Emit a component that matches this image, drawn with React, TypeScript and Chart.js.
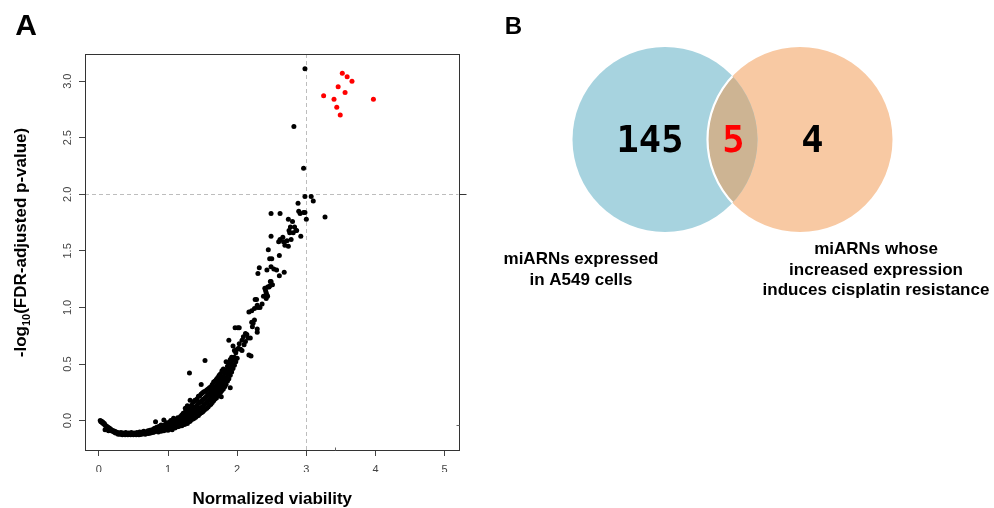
import React, { useEffect, useRef } from 'react';
import { Chart, registerables } from 'chart.js';

Chart.register(...registerables);

type Pt = [number, number];

// ---------- Panel A data ----------
const xTickValues = [0, 1, 2, 3, 4, 5];
const yTickValues = [0, 0.5, 1, 1.5, 2, 2.5, 3];
const xRange = [-0.2, 5.2];
const yRange = [-0.26, 3.24];
const viabilityThreshold = 3;
const significanceThreshold = 2;
const xAxisTitle = 'Normalized viability';
const yTitleParts = ['-log', '10', '(FDR-adjusted p-value)'];
// stray axis marks visible in the original figure
const bottomStrayMarkX = 3.41;
const rightStrayMarkY = -0.04;

const baselinePoints: Pt[] = [
  [0.02, 0.0], [0.03, -0.01], [0.04, -0.005], [0.05, -0.02], [0.06, -0.015], [0.07, -0.03], [0.08, -0.025],
  [0.09, -0.04], [0.09, -0.08], [0.1, -0.045], [0.11, -0.05], [0.12, -0.055], [0.13, -0.06], [0.14, -0.07],
  [0.14, -0.09], [0.15, -0.065], [0.16, -0.08], [0.17, -0.075], [0.18, -0.09], [0.19, -0.085], [0.2, -0.095],
  [0.21, -0.09], [0.22, -0.1], [0.23, -0.095], [0.24, -0.11], [0.25, -0.1], [0.26, -0.11], [0.27, -0.105],
  [0.28, -0.12], [0.29, -0.11], [0.3, -0.115], [0.31, -0.12], [0.32, -0.105], [0.33, -0.115], [0.34, -0.125],
  [0.35, -0.11], [0.36, -0.12], [0.37, -0.115], [0.38, -0.125], [0.39, -0.105], [0.4, -0.12], [0.41, -0.115],
  [0.42, -0.125], [0.43, -0.11], [0.44, -0.12], [0.45, -0.115], [0.46, -0.125], [0.47, -0.105], [0.48, -0.12],
  [0.49, -0.115], [0.5, -0.125], [0.51, -0.11], [0.52, -0.12], [0.53, -0.115], [0.54, -0.125], [0.55, -0.105],
  [0.56, -0.12], [0.57, -0.115], [0.58, -0.125], [0.59, -0.1], [0.6, -0.12], [0.61, -0.11], [0.62, -0.12],
  [0.63, -0.1], [0.64, -0.115], [0.65, -0.095], [0.66, -0.11], [0.67, -0.12], [0.68, -0.1], [0.69, -0.115],
  [0.7, -0.105], [0.71, -0.09], [0.72, -0.115], [0.73, -0.1], [0.74, -0.085], [0.75, -0.11], [0.76, -0.095],
  [0.77, -0.08], [0.78, -0.105], [0.79, -0.09]
];

const risingBandPoints: Pt[] = [
  [0.8, -0.1], [0.8, -0.07], [0.82, -0.065], [0.82, -0.095], [0.82, -0.01], [0.84, -0.09], [0.84, -0.06],
  [0.86, -0.055], [0.86, -0.1], [0.88, -0.085], [0.88, -0.05], [0.9, -0.095], [0.9, -0.06], [0.9, -0.04],
  [0.92, -0.075], [0.92, -0.045], [0.94, -0.09], [0.94, -0.055], [0.94, 0.005], [0.96, -0.035], [0.96, -0.07],
  [0.98, -0.08], [0.98, -0.045], [0.98, -0.02], [1.0, -0.065], [1.0, -0.03], [1.0, -0.085], [1.02, -0.05],
  [1.02, -0.015], [1.02, -0.075], [1.04, -0.07], [1.04, -0.035], [1.04, 0.0], [1.06, -0.02], [1.06, -0.055],
  [1.06, -0.08], [1.08, -0.06], [1.08, -0.03], [1.08, 0.02], [1.1, -0.065], [1.1, -0.01], [1.1, -0.04],
  [1.12, -0.045], [1.12, 0.01], [1.12, -0.02], [1.14, -0.055], [1.14, -0.005], [1.14, 0.025], [1.16, -0.03],
  [1.16, 0.015], [1.16, -0.05], [1.18, -0.04], [1.18, 0.0], [1.18, 0.035],
  [1.2, -0.045], [1.2, -0.015], [1.2, 0.02], [1.2, 0.05], [1.22, -0.03], [1.22, 0.005], [1.22, 0.04], [1.22, 0.065],
  [1.24, -0.035], [1.24, -0.005], [1.24, 0.03], [1.24, 0.07], [1.25, 0.11], [1.26, -0.02], [1.26, 0.015],
  [1.26, 0.05], [1.26, 0.09], [1.28, -0.025], [1.28, 0.01], [1.28, 0.045], [1.28, 0.08], [1.28, 0.13],
  [1.3, -0.01], [1.3, 0.03], [1.3, 0.07], [1.3, 0.11], [1.31, 0.42], [1.32, -0.005], [1.32, 0.04], [1.32, 0.08],
  [1.32, 0.12], [1.32, 0.18], [1.34, 0.01], [1.34, 0.05], [1.34, 0.09], [1.34, 0.135], [1.36, 0.015],
  [1.36, 0.06], [1.36, 0.1], [1.36, 0.16], [1.38, 0.02], [1.38, 0.07], [1.38, 0.115], [1.38, 0.17], [1.39, 0.18],
  [1.4, 0.03], [1.4, 0.075], [1.4, 0.12], [1.4, 0.18], [1.42, 0.04], [1.42, 0.085], [1.42, 0.135], [1.42, 0.19],
  [1.44, 0.045], [1.44, 0.095], [1.44, 0.15], [1.44, 0.215], [1.46, 0.06], [1.46, 0.11], [1.46, 0.16],
  [1.46, 0.22], [1.48, 0.07], [1.48, 0.115], [1.48, 0.17], [1.48, 0.235], [1.48, 0.32], [1.5, 0.075],
  [1.5, 0.125], [1.5, 0.185], [1.5, 0.245], [1.52, 0.09], [1.52, 0.14], [1.52, 0.19], [1.52, 0.255],
  [1.535, 0.53], [1.54, 0.1], [1.54, 0.15], [1.54, 0.205], [1.54, 0.26], [1.56, 0.11], [1.56, 0.16],
  [1.56, 0.215], [1.56, 0.27], [1.58, 0.12], [1.58, 0.175], [1.58, 0.23], [1.58, 0.28], [1.6, 0.135],
  [1.6, 0.185], [1.6, 0.24], [1.6, 0.29], [1.62, 0.145], [1.62, 0.2], [1.62, 0.25], [1.62, 0.3], [1.64, 0.16],
  [1.64, 0.215], [1.64, 0.265], [1.64, 0.32], [1.66, 0.175], [1.66, 0.225], [1.66, 0.28], [1.66, 0.34],
  [1.68, 0.19], [1.68, 0.245], [1.68, 0.295], [1.68, 0.35], [1.7, 0.2], [1.7, 0.255], [1.7, 0.31], [1.7, 0.365],
  [1.72, 0.22], [1.72, 0.27], [1.72, 0.325], [1.72, 0.38], [1.74, 0.235], [1.74, 0.285], [1.74, 0.34],
  [1.74, 0.4], [1.76, 0.25], [1.76, 0.3], [1.76, 0.355], [1.76, 0.415], [1.77, 0.21], [1.78, 0.265],
  [1.78, 0.32], [1.78, 0.375], [1.78, 0.44], [1.8, 0.28], [1.8, 0.335], [1.8, 0.39], [1.8, 0.455],
  [1.82, 0.3], [1.82, 0.36], [1.82, 0.42], [1.84, 0.32], [1.84, 0.38], [1.84, 0.45], [1.84, 0.52],
  [1.86, 0.35], [1.86, 0.41], [1.86, 0.48], [1.88, 0.37], [1.88, 0.44], [1.88, 0.51], [1.88, 0.71],
  [1.9, 0.29], [1.9, 0.4], [1.9, 0.47], [1.9, 0.54], [1.92, 0.43], [1.92, 0.5], [1.92, 0.56], [1.94, 0.46],
  [1.94, 0.53], [1.94, 0.66], [1.96, 0.49], [1.96, 0.56], [1.96, 0.62], [1.98, 0.52], [1.98, 0.6],
  [2.0, 0.55], [2.0, 0.63]
];

const upperPoints: Pt[] = [
  [1.97, 0.82], [2.01, 0.82], [2.03, 0.82], [2.02, 0.64], [2.03, 0.68], [2.05, 0.63], [2.07, 0.62], [2.07, 0.71],
  [2.09, 0.74], [2.1, 0.67], [2.12, 0.77], [2.12, 0.7], [2.14, 0.76], [2.16, 0.73], [2.17, 0.58], [2.19, 0.73],
  [2.2, 0.57], [2.17, 0.96], [2.21, 0.97], [2.21, 0.87], [2.22, 0.83], [2.23, 0.86], [2.25, 0.89], [2.25, 0.99],
  [2.26, 1.07], [2.28, 1.07], [2.29, 1.02], [2.29, 0.81], [2.29, 0.78], [2.3, 1.0], [2.3, 1.3], [2.32, 1.35],
  [2.33, 1.0], [2.36, 1.03], [2.38, 1.1], [2.4, 1.17], [2.41, 1.15], [2.42, 1.13], [2.42, 1.08], [2.43, 1.11],
  [2.44, 1.1], [2.44, 1.18], [2.43, 1.33], [2.45, 1.51], [2.46, 1.18], [2.47, 1.19], [2.47, 1.43], [2.48, 1.23],
  [2.49, 1.23], [2.49, 1.36], [2.49, 1.63], [2.49, 1.83], [2.5, 1.43], [2.51, 1.2], [2.53, 1.34], [2.57, 1.33],
  [2.61, 1.28], [2.68, 1.31], [2.61, 1.46], [2.62, 1.83], [2.6, 1.58], [2.62, 1.6], [2.66, 1.62], [2.67, 1.58],
  [2.69, 1.55], [2.72, 1.59], [2.74, 1.54], [2.74, 1.78], [2.75, 1.68], [2.76, 1.66], [2.77, 1.71], [2.78, 1.6],
  [2.8, 1.76], [2.81, 1.66], [2.83, 1.71], [2.85, 1.68], [2.86, 1.68], [2.88, 1.92], [2.89, 1.85], [2.91, 1.83],
  [2.92, 1.63], [2.96, 1.84], [2.98, 1.84], [2.98, 1.98], [3.0, 1.78], [3.07, 1.98], [3.1, 1.94], [3.27, 1.8],
  [2.96, 2.23], [2.82, 2.6], [2.98, 3.11]
];

const candidatePoints: Pt[] = [
  [3.25, 2.87], [3.4, 2.84], [3.44, 2.77], [3.49, 2.7], [3.46, 2.95], [3.52, 3.07], [3.59, 3.04], [3.66, 3.0],
  [3.56, 2.9], [3.97, 2.84]
];

// ---------- Panel B data ----------
const vennCounts = [145, 5, 4]; // only set 1, both, only set 2
const vennSetNames = [
  ['miARNs expressed', 'in A549 cells'],
  ['miARNs whose', 'increased expression', 'induces cisplatin resistance']
];
const panelLetters = ['A', 'B'];

const FONT = '"Liberation Sans", Arial, Helvetica, sans-serif';
const vennGeometry = [
  { x: 185, y: 139.5, r: 92.5, color: '#a7d3df' },
  { x: 320, y: 139.5, r: 92.5, color: '#f8c9a3' }
];
const overlapColor = '#cdb493';

const toXY = (pts: Pt[]) => pts.map(([x, y]) => ({ x, y }));

const scatterDecor = {
  id: 'scatterDecor',
  beforeDatasetsDraw(chart: any) {
    const { ctx, chartArea: a, scales } = chart;
    const px = Math.round(scales.x.getPixelForValue(viabilityThreshold)) + 0.5;
    const py = Math.round(scales.y.getPixelForValue(significanceThreshold)) + 0.5;
    ctx.save();
    ctx.strokeStyle = '#bdbdbd';
    ctx.lineWidth = 1;
    ctx.setLineDash([4, 3]);
    ctx.beginPath();
    ctx.moveTo(px, a.top);
    ctx.lineTo(px, a.bottom);
    ctx.moveTo(a.left, py);
    ctx.lineTo(a.right, py);
    ctx.stroke();
    ctx.restore();
  },
  afterDraw(chart: any) {
    const { ctx, chartArea: a, scales } = chart;
    ctx.save();
    ctx.strokeStyle = '#333';
    ctx.lineWidth = 1;
    const l = Math.round(a.left) + 0.5, r = Math.round(a.right) + 0.5;
    const t = Math.round(a.top) + 0.5, b = Math.round(a.bottom) + 0.5;
    ctx.strokeRect(l, t, r - l, b - t);
    const py = Math.round(scales.y.getPixelForValue(significanceThreshold)) + 0.5;
    ctx.beginPath();
    ctx.moveTo(r, py);
    ctx.lineTo(r + 7, py);
    ctx.stroke();
    // stray marks
    ctx.strokeStyle = '#666';
    const sx = Math.round(scales.x.getPixelForValue(bottomStrayMarkX)) + 0.5;
    const sy = Math.round(scales.y.getPixelForValue(rightStrayMarkY)) + 0.5;
    ctx.beginPath();
    ctx.moveTo(sx, b);
    ctx.lineTo(sx, b - 3);
    ctx.moveTo(r, sy);
    ctx.lineTo(r - 3, sy);
    ctx.stroke();

    ctx.fillStyle = '#444';
    ctx.font = `11px ${FONT}`;
    ctx.textAlign = 'center';
    ctx.textBaseline = 'middle';
    for (const v of yTickValues) {
      const yy = scales.y.getPixelForValue(v);
      ctx.save();
      ctx.translate(a.left - 17, yy);
      ctx.rotate(-Math.PI / 2);
      ctx.fillText(v.toFixed(1), 0, 0);
      ctx.restore();
    }
    ctx.fillStyle = '#000';
    ctx.font = `bold 17px ${FONT}`;
    ctx.textAlign = 'center';
    ctx.textBaseline = 'alphabetic';
    ctx.fillText(xAxisTitle, (a.left + a.right) / 2 + 0.5, 504);
    ctx.save();
    ctx.translate(25.5, 242.5);
    ctx.rotate(-Math.PI / 2);
    const mainF = `bold 17px ${FONT}`;
    const subF = `bold 11px ${FONT}`;
    ctx.font = mainF;
    const w1 = ctx.measureText(yTitleParts[0]).width;
    const w3 = ctx.measureText(yTitleParts[2]).width;
    ctx.font = subF;
    const w2 = ctx.measureText(yTitleParts[1]).width;
    let x0 = -(w1 + w2 + w3) / 2;
    ctx.textAlign = 'left';
    ctx.font = mainF;
    ctx.fillText(yTitleParts[0], x0, 0);
    x0 += w1;
    ctx.font = subF;
    ctx.fillText(yTitleParts[1], x0, 4);
    x0 += w2;
    ctx.font = mainF;
    ctx.fillText(yTitleParts[2], x0, 0);
    ctx.restore();
    ctx.font = `bold 30px ${FONT}`;
    ctx.textAlign = 'center';
    ctx.fillText(panelLetters[0], 26, 35);
    ctx.restore();
  }
};

const vennDecor = {
  id: 'vennDecor',
  afterDatasetsDraw(chart: any) {
    const { ctx } = chart;
    const a = chart.getDatasetMeta(0).data[0];
    const b = chart.getDatasetMeta(1).data[0];
    const ra = a.options.radius, rb = b.options.radius;
    ctx.save();
    ctx.beginPath();
    ctx.arc(a.x, a.y, ra, 0, Math.PI * 2);
    ctx.clip();
    ctx.beginPath();
    ctx.arc(b.x, b.y, rb, 0, Math.PI * 2);
    ctx.fillStyle = overlapColor;
    ctx.fill();
    ctx.strokeStyle = '#ffffff';
    ctx.lineWidth = 2.2;
    ctx.stroke();
    ctx.restore();

    ctx.save();
    ctx.textAlign = 'center';
    ctx.textBaseline = 'alphabetic';
    ctx.font = `bold 37px "DejaVu Sans Mono", ${FONT}`;
    const base = a.y + 12.2;
    ctx.fillStyle = '#000';
    ctx.fillText(String(vennCounts[0]), a.x - 15, base);
    ctx.fillStyle = '#ff0000';
    ctx.fillText(String(vennCounts[1]), (a.x + b.x) / 2 + 1, base);
    ctx.fillStyle = '#000';
    ctx.fillText(String(vennCounts[2]), b.x + 12.5, base);

    ctx.font = `bold 17px ${FONT}`;
    ctx.textBaseline = 'middle';
    vennSetNames[0].forEach((line, i) => ctx.fillText(line, a.x - 84, a.y + 120 + i * 20.5));
    vennSetNames[1].forEach((line, i) => ctx.fillText(line, b.x + 76, a.y + 110 + i * 20.5));

    ctx.font = `bold 24px ${FONT}`;
    ctx.textBaseline = 'alphabetic';
    ctx.fillText(panelLetters[1], 33.5, 34);
    ctx.restore();
  }
};

export default function App() {
  const leftRef = useRef<HTMLCanvasElement>(null);
  const rightRef = useRef<HTMLCanvasElement>(null);

  useEffect(() => {
    const tickFont = { size: 11, family: FONT };
    const scatter = new Chart(leftRef.current as HTMLCanvasElement, {
      type: 'scatter',
      data: {
        datasets: [
          {
            data: toXY([...baselinePoints, ...risingBandPoints, ...upperPoints]),
            backgroundColor: '#000',
            borderWidth: 0,
            pointRadius: 2.5
          },
          {
            data: toXY(candidatePoints),
            backgroundColor: '#ff0000',
            borderWidth: 0,
            pointRadius: 2.5
          }
        ]
      },
      options: {
        responsive: false,
        animation: false,
        devicePixelRatio: 1,
        events: [],
        layout: { autoPadding: false, padding: { left: 79, right: 21.5, top: 54, bottom: 36 } },
        plugins: { legend: { display: false }, tooltip: { enabled: false } },
        scales: {
          x: {
            type: 'linear',
            min: xRange[0],
            max: xRange[1],
            afterFit: (s: any) => { s.height = 22; },
            afterBuildTicks: (s: any) => { s.ticks = xTickValues.map((value) => ({ value })); },
            ticks: { font: tickFont, color: '#444', padding: 7, maxRotation: 0, includeBounds: false },
            grid: { drawOnChartArea: false, drawTicks: true, tickLength: 6, tickColor: '#444', color: '#444' },
            border: { display: false }
          },
          y: {
            type: 'linear',
            min: yRange[0],
            max: yRange[1],
            afterFit: (s: any) => { s.width = 6; },
            afterBuildTicks: (s: any) => { s.ticks = yTickValues.map((value) => ({ value })); },
            ticks: { display: false, includeBounds: false },
            grid: { drawOnChartArea: false, drawTicks: true, tickLength: 6, tickColor: '#444', color: '#444' },
            border: { display: false }
          }
        }
      } as any,
      plugins: [scatterDecor]
    });

    const venn = new Chart(rightRef.current as HTMLCanvasElement, {
      type: 'bubble',
      data: {
        datasets: vennGeometry.map((g) => ({
          data: [{ x: g.x, y: g.y, r: g.r }],
          backgroundColor: g.color,
          borderWidth: 0,
          clip: false
        }))
      },
      options: {
        responsive: false,
        animation: false,
        devicePixelRatio: 1,
        events: [],
        layout: { autoPadding: false, padding: 0 },
        plugins: { legend: { display: false }, tooltip: { enabled: false } },
        scales: {
          x: { type: 'linear', display: false, min: 0, max: 514 },
          y: { type: 'linear', display: false, min: 0, max: 508, reverse: true }
        }
      } as any,
      plugins: [vennDecor]
    });

    return () => {
      scatter.destroy();
      venn.destroy();
    };
  }, []);

  return (
    <div style={{ position: 'fixed', left: 0, top: 0, width: 994, height: 508, background: '#fff' }}>
      <canvas
        ref={leftRef}
        width={480}
        height={508}
        style={{ position: 'absolute', left: 0, top: 0, width: 480, height: 508 }}
      />
      <canvas
        ref={rightRef}
        width={514}
        height={508}
        style={{ position: 'absolute', left: 480, top: 0, width: 514, height: 508 }}
      />
    </div>
  );
}
